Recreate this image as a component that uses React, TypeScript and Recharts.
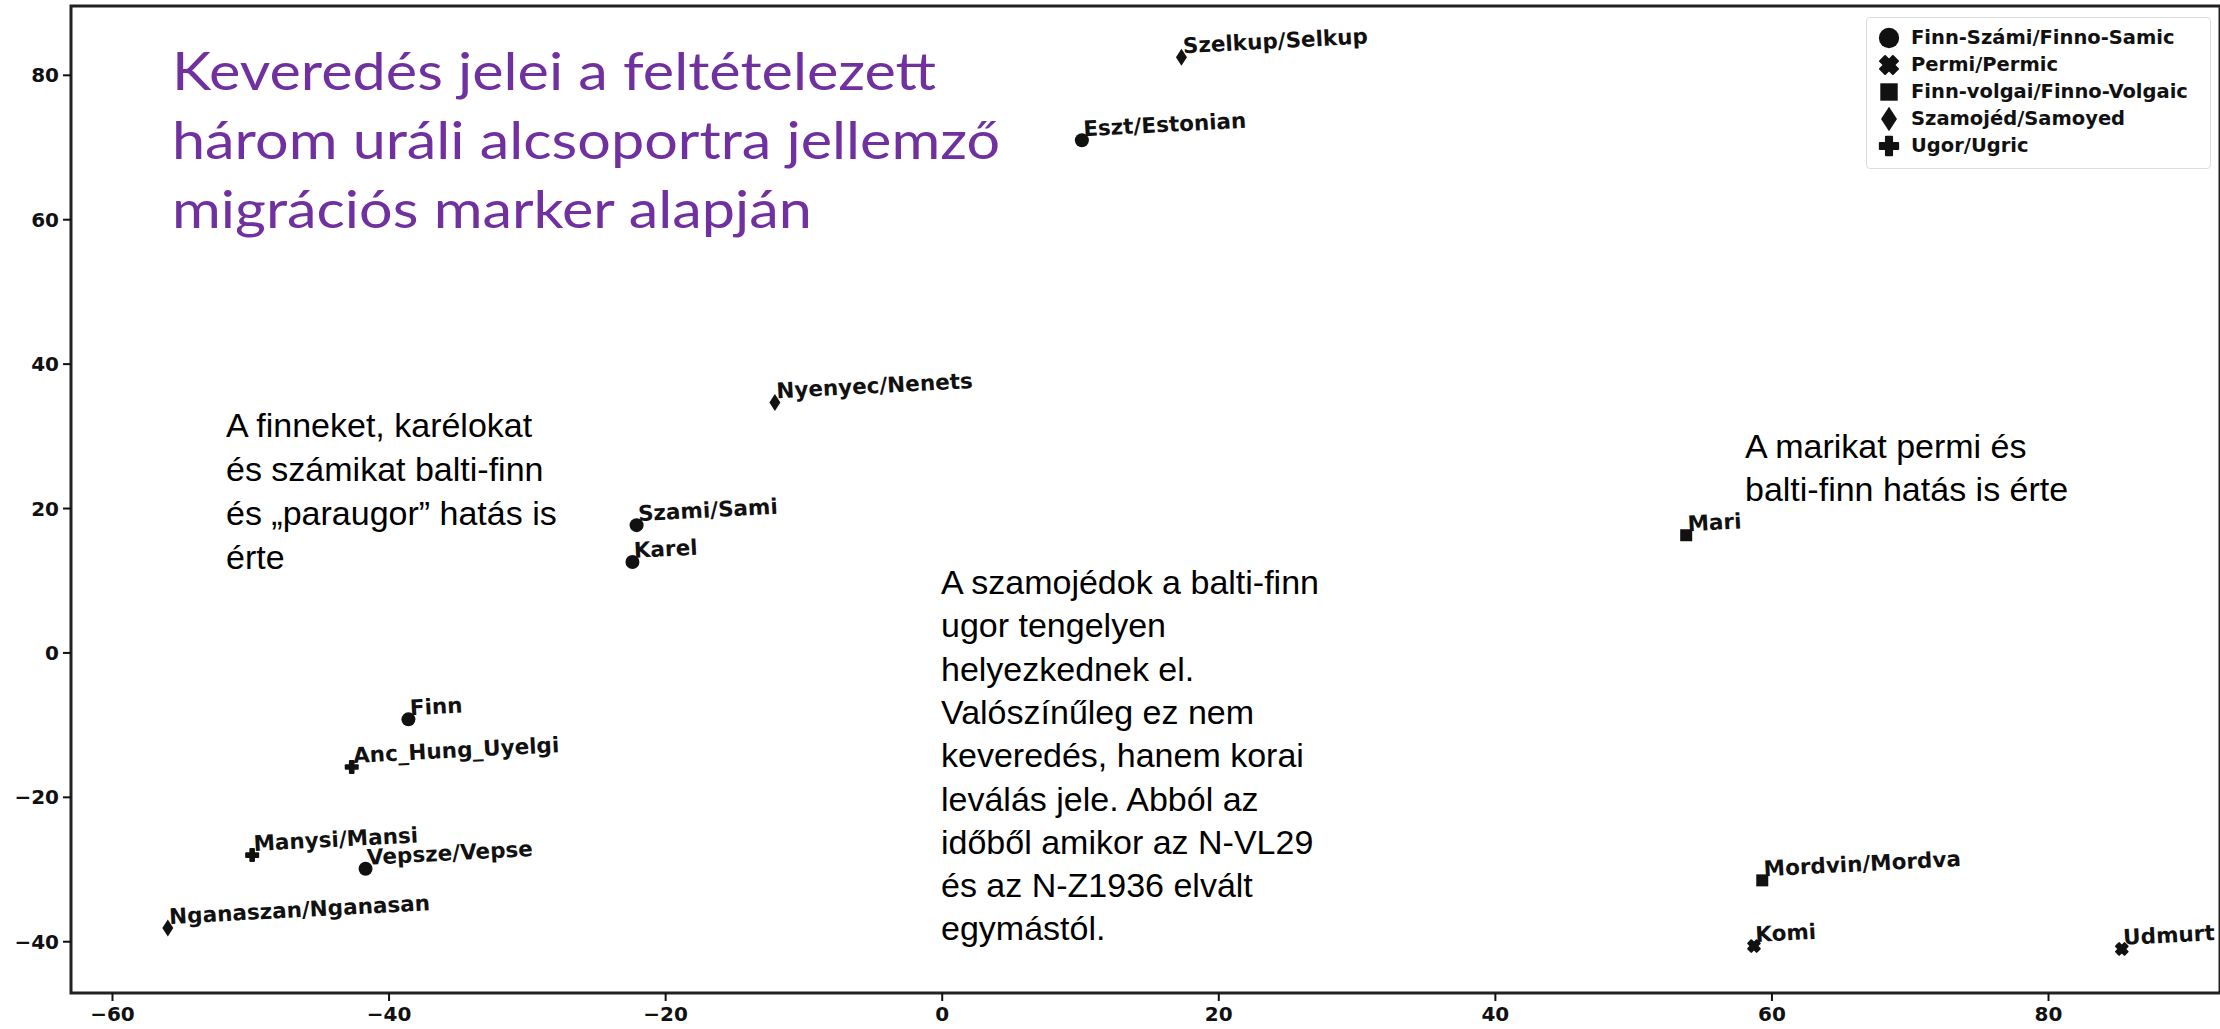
import React from 'react';
import { ScatterChart, Scatter, XAxis, YAxis, ReferenceArea, Legend } from 'recharts';

// PCA-like coordinates
const finnoSamic = [
  { name: 'Eszt/Estonian', x: 10.1, y: 71.0 },
  { name: 'Szami/Sami', x: -22.1, y: 17.7 },
  { name: 'Karel', x: -22.4, y: 12.6 },
  { name: 'Finn', x: -38.6, y: -9.2 },
  { name: 'Vepsze/Vepse', x: -41.7, y: -29.9 },
];
const permic = [
  { name: 'Komi', x: 58.7, y: -40.6 },
  { name: 'Udmurt', x: 85.3, y: -41.0 },
];
const finnoVolgaic = [
  { name: 'Mari', x: 53.8, y: 16.3 },
  { name: 'Mordvin/Mordva', x: 59.3, y: -31.5 },
];
const samoyed = [
  { name: 'Szelkup/Selkup', x: 17.3, y: 82.5 },
  { name: 'Nyenyec/Nenets', x: -12.1, y: 34.7 },
  { name: 'Nganaszan/Nganasan', x: -56.0, y: -38.1 },
];
const ugric = [
  { name: 'Anc_Hung_Uyelgi', x: -42.7, y: -15.8 },
  { name: 'Manysi/Mansi', x: -49.9, y: -28.0 },
];

const xTicks = [-60, -40, -20, 0, 20, 40, 60, 80];
const yTicks = [-40, -20, 0, 20, 40, 60, 80];

const titleLines = ['Keveredés jelei a feltételezett', 'három uráli alcsoportra jellemző', 'migrációs marker alapján'];
const noteLeft = ['A finneket, karélokat', 'és számikat balti-finn', 'és „paraugor” hatás is', 'érte'];
const noteMiddle = [
  'A szamojédok a balti-finn',
  'ugor tengelyen',
  'helyezkednek el.',
  'Valószínűleg ez nem',
  'keveredés, hanem korai',
  'leválás jele. Abból az',
  'időből amikor az N-VL29',
  'és az N-Z1936 elvált',
  'egymástól.',
];
const noteRight = ['A marikat permi és', 'balti-finn hatás is érte'];

type Kind = 'circle' | 'x' | 'square' | 'diamond' | 'plus';

const groups: { label: string; kind: Kind; data: typeof finnoSamic }[] = [
  { label: 'Finn-Számi/Finno-Samic', kind: 'circle', data: finnoSamic },
  { label: 'Permi/Permic', kind: 'x', data: permic },
  { label: 'Finn-volgai/Finno-Volgaic', kind: 'square', data: finnoVolgaic },
  { label: 'Szamojéd/Samoyed', kind: 'diamond', data: samoyed },
  { label: 'Ugor/Ugric', kind: 'plus', data: ugric },
];

const Marker = ({ kind, cx, cy, s }: { kind: Kind; cx: number; cy: number; s: number }) => {
  const c = '#111';
  if (kind === 'circle') return <circle cx={cx} cy={cy} r={7 * s} fill={c} />;
  if (kind === 'square') return <rect x={cx - 6 * s} y={cy - 6 * s} width={12 * s} height={12 * s} fill={c} />;
  if (kind === 'diamond') {
    const w = 5.5 * s, h = 8.5 * s;
    return <polygon points={`${cx},${cy - h} ${cx + w},${cy} ${cx},${cy + h} ${cx - w},${cy}`} fill={c} />;
  }
  if (kind === 'plus') {
    const a = 7 * s, b = 2.8 * s;
    return (
      <g fill={c}>
        <rect x={cx - a} y={cy - b} width={2 * a} height={2 * b} rx={1} />
        <rect x={cx - b} y={cy - a} width={2 * b} height={2 * a} rx={1} />
      </g>
    );
  }
  const a = 7 * s, b = 3.2 * s;
  return (
    <g fill={c} transform={`rotate(45 ${cx} ${cy})`}>
      <rect x={cx - a} y={cy - b} width={2 * a} height={2 * b} rx={1} />
      <rect x={cx - b} y={cy - a} width={2 * b} height={2 * a} rx={1} />
    </g>
  );
};

const makeShape = (kind: Kind) => (props: any) => {
  const { cx, cy, payload } = props;
  return (
    <g>
      <Marker kind={kind} cx={cx} cy={cy} s={1} />
      <text
        x={cx + 2}
        y={cy - 4}
        transform={`rotate(-3 ${cx} ${cy})`}
        fontFamily="DejaVu Sans"
        fontWeight="bold"
        fontSize={21.5}
        fill="#111"
      >
        {payload.name}
      </text>
    </g>
  );
};

const renderLegend = () => (
  <div
    style={{
      border: '1px solid #ddd',
      borderRadius: 4,
      background: '#fff',
      padding: '6px 8px 9px 8px',
      fontFamily: 'DejaVu Sans',
      fontWeight: 'bold',
      fontSize: 19.5,
      color: '#111',
    }}
  >
    {groups.map((g) => (
      <div key={g.label} style={{ display: 'flex', alignItems: 'center', height: 27, whiteSpace: 'nowrap' }}>
        <svg width={28} height={26} style={{ marginRight: 8, flex: 'none' }}>
          <Marker kind={g.kind} cx={14} cy={13} s={1.45} />
        </svg>
        <span>{g.label}</span>
      </div>
    ))}
  </div>
);

const minus = (v: number) => (v < 0 ? '\u2212' + Math.abs(v) : String(v));

const tickStyle = { fill: '#111', fontSize: 20, fontWeight: 'bold', fontFamily: 'DejaVu Sans' };

const App = () => {
  return (
    <div style={{ position: 'absolute', left: 0, top: 0, width: 2220, height: 1029, background: '#fff', overflow: 'hidden' }}>
      <ScatterChart width={2220} height={1029} margin={{ top: 6, right: 0, bottom: 0, left: 0 }}>
        <XAxis
          type="number"
          dataKey="x"
          domain={[-63, 92.4]}
          ticks={xTicks}
          allowDataOverflow
          height={36}
          tickFormatter={minus}
          tick={tickStyle}
          tickSize={8}
          tickMargin={6}
          axisLine={false}
          tickLine={{ stroke: '#111', strokeWidth: 2 }}
        />
        <YAxis
          type="number"
          dataKey="y"
          domain={[-47.1, 89.6]}
          ticks={yTicks}
          allowDataOverflow
          width={71}
          tickFormatter={minus}
          tick={tickStyle}
          tickSize={8}
          tickMargin={4}
          axisLine={false}
          tickLine={{ stroke: '#111', strokeWidth: 2 }}
        />
        <ReferenceArea
          x1={-63}
          x2={92.4}
          y1={-47.1}
          y2={89.6}
          fill="none"
          stroke="#222"
          strokeWidth={3}
          ifOverflow="visible"
        />
        {groups.map((g) => (
          <Scatter
            key={g.label}
            name={g.label}
            data={g.data}
            shape={makeShape(g.kind)}
            isAnimationActive={false}
          />
        ))}
        <Legend
          layout="vertical"
          align="center"
          verticalAlign="middle"
          content={renderLegend}
          wrapperStyle={{ top: 17, left: 1866, width: 345 }}
        />
      </ScatterChart>
      <svg
        width={2220}
        height={1029}
        style={{ position: 'absolute', left: 0, top: 0, pointerEvents: 'none' }}
      >
        <g fontFamily="Lato" fontSize={53} fill="#7030A0" transform="translate(172 0) scale(1.12 1)">
          {titleLines.map((t, i) => (
            <text key={t} x={0} y={90 + i * 69}>{t}</text>
          ))}
        </g>
        <g fontFamily="Liberation Sans" fontSize={34} fill="#000">
          {noteLeft.map((t, i) => (
            <text key={t} x={226} y={437 + i * 44}>{t}</text>
          ))}
          {noteMiddle.map((t, i) => (
            <text key={t} x={941} y={594 + i * 43.3}>{t}</text>
          ))}
          {noteRight.map((t, i) => (
            <text key={t} x={1745} y={458 + i * 43}>{t}</text>
          ))}
        </g>
      </svg>
    </div>
  );
};

export default App;
